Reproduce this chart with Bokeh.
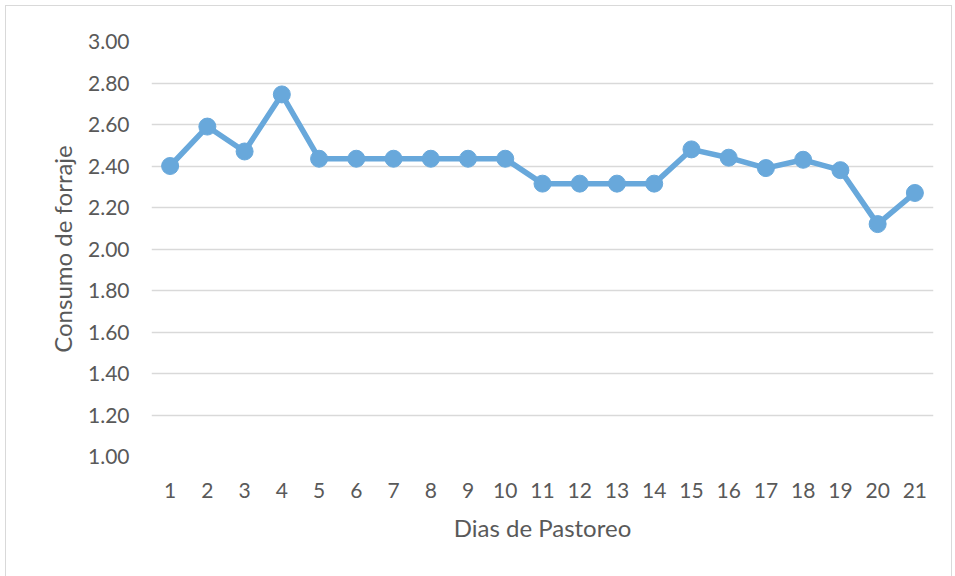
from bokeh.plotting import figure
from bokeh.models import ColumnDataSource, FactorRange, Range1d, FixedTicker, NumeralTickFormatter
from bokeh.embed import file_html
from bokeh.resources import INLINE

days = [str(i) for i in range(1, 22)]
consumo = [2.40, 2.59, 2.47, 2.745, 2.435, 2.435, 2.435, 2.435, 2.435, 2.435,
           2.315, 2.315, 2.315, 2.315, 2.48, 2.44, 2.39, 2.43, 2.38, 2.12, 2.27]
y_ticks = [1.0, 1.2, 1.4, 1.6, 1.8, 2.0, 2.2, 2.4, 2.6, 2.8, 3.0]

FONT = "Lato"
TXT = "#595959"
BLUE = "#68A8DB"

src = ColumnDataSource(dict(day=days, val=consumo))

p = figure(x_range=FactorRange(*days), y_range=Range1d(1.0, 3.0),
           frame_width=782, frame_height=415,
           min_border_left=145, min_border_top=35, min_border_right=18, min_border_bottom=125,
           output_backend="svg", toolbar_location=None,
           background_fill_color="white", border_fill_color="white")
p.outline_line_color = None
p.styles = {"border": "1px solid #D9D9D9", "margin-left": "5px", "margin-top": "5px"}

p.line("day", "val", source=src, line_color=BLUE, line_width=5.5, line_join="round")
p.scatter("day", "val", source=src, size=17, fill_color=BLUE, line_color=BLUE)

p.xgrid.grid_line_color = None
p.ygrid.grid_line_color = "#D9D9D9"
p.ygrid.grid_line_width = 1.5
p.yaxis.ticker = FixedTicker(ticks=y_ticks)
p.yaxis.formatter = NumeralTickFormatter(format="0.00")

for ax in (p.xaxis, p.yaxis):
    ax.axis_line_color = None
    ax.major_tick_line_color = None
    ax.minor_tick_line_color = None
    ax.major_label_text_font = FONT
    ax.major_label_text_font_size = "21px"
    ax.major_label_text_color = TXT
    ax.axis_label_text_font = FONT
    ax.axis_label_text_font_size = "24px"
    ax.axis_label_text_color = TXT
    ax.axis_label_text_font_style = "normal"

p.xaxis.axis_label = "Dias de Pastoreo"
p.yaxis.axis_label = "Consumo de forraje"
p.xaxis.major_label_standoff = 20
p.xaxis.axis_label_standoff = 12
p.yaxis.major_label_standoff = 16
p.yaxis.axis_label_standoff = 8

open("out.html", "w").write(file_html(p, INLINE))
